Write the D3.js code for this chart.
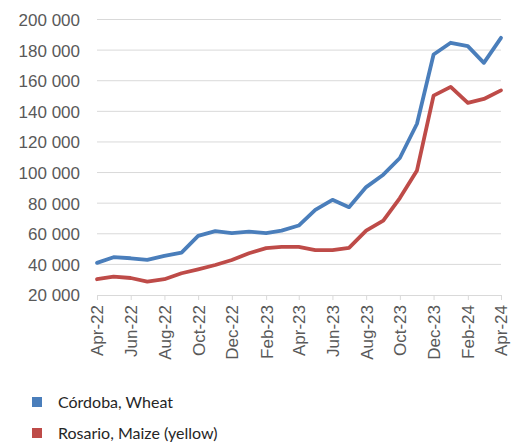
<!DOCTYPE html>
<html>
<head>
<meta charset="utf-8">
<script src="https://cdn.jsdelivr.net/npm/d3@7"></script>
<style>
  html, body { margin: 0; padding: 0; background: #fff; }
  svg { display: block; font-family: Lato, "Open Sans", sans-serif; }
</style>
</head>
<body>
<div id="chart"></div>
<script>
// months, Apr-22 .. Apr-24
const months = [
  "2022-04", "2022-05", "2022-06", "2022-07", "2022-08", "2022-09", "2022-10",
  "2022-11", "2022-12", "2023-01", "2023-02", "2023-03", "2023-04", "2023-05",
  "2023-06", "2023-07", "2023-08", "2023-09", "2023-10", "2023-11", "2023-12",
  "2024-01", "2024-02", "2024-03", "2024-04"
];

const cordobaWheat = [
  41000, 44700, 44000, 42900, 45500, 47700, 58600, 61700, 60400, 61400,
  60400, 62100, 65400, 75600, 82200, 77400, 90500, 98600, 109500, 131900,
  177100, 184800, 182600, 171700, 188000
];

const rosarioMaize = [
  30300, 32000, 31100, 28700, 30300, 34200, 36800, 39600, 42900, 47300,
  50600, 51400, 51400, 49300, 49300, 50800, 62100, 68600, 83300, 101400,
  150300, 156000, 145500, 148100, 153700
];

const seriesNames = ["Córdoba, Wheat", "Rosario, Maize (yellow)"];
const seriesColors = ["#4a7ebb", "#be4b48"];
const yTicks = [20000, 40000, 60000, 80000, 100000, 120000, 140000, 160000, 180000, 200000];

const width = 511, height = 442;
const parseMonth = d3.timeParse("%Y-%m");
const dates = months.map(parseMonth);

const svg = d3.select("#chart").append("svg")
  .attr("width", width)
  .attr("height", height);

const x = d3.scaleTime()
  .domain([dates[0], dates[dates.length - 1]])
  .range([97, 501]);

const y = d3.scaleLinear()
  .domain([20000, 200000])
  .range([295, 19.5]);

const fmt = d3.formatLocale({ decimal: ",", thousands: " ", grouping: [3], currency: ["", ""] }).format(",d");

// Сетка
svg.append("g")
  .selectAll("line")
  .data(yTicks.slice(1))
  .enter()
  .append("line")
  .attr("x1", x.range()[0])
  .attr("x2", x.range()[1])
  .attr("y1", d => y(d))
  .attr("y2", d => y(d))
  .attr("stroke", "#d9d9d9")
  .attr("stroke-width", 1);

// Ось Y
const yAxis = svg.append("g")
  .attr("transform", "translate(80,0)")
  .call(d3.axisLeft(y).tickValues(yTicks).tickFormat(fmt).tickSize(0).tickPadding(0));
yAxis.select(".domain").remove();
yAxis.selectAll("text")
  .attr("fill", "#595959")
  .style("font-size", "17px")
  .attr("dy", "0.35em");

// Ось X
const xTicks = dates.filter((d, i) => i % 2 === 0);
const xAxis = svg.append("g")
  .attr("transform", `translate(0,${y(20000)})`)
  .call(d3.axisBottom(x).tickValues(xTicks).tickFormat(d3.timeFormat("%b-%y")).tickSize(5).tickSizeOuter(0));
xAxis.select(".domain").attr("stroke", "#d9d9d9");
xAxis.selectAll(".tick line").attr("stroke", "#d9d9d9");
xAxis.selectAll("text")
  .attr("fill", "#595959")
  .style("font-size", "17px")
  .attr("text-anchor", "end")
  .attr("transform", "rotate(-90)")
  .attr("x", -10)
  .attr("y", 0)
  .attr("dy", "0.35em");

// Линии
const line = d3.line()
  .x((d, i) => x(dates[i]))
  .y(d => y(d));

[cordobaWheat, rosarioMaize].forEach((vals, k) => {
  svg.append("path")
    .datum(vals)
    .attr("fill", "none")
    .attr("stroke", seriesColors[k])
    .attr("stroke-width", 3.8)
    .attr("stroke-linejoin", "round")
    .attr("stroke-linecap", "round")
    .attr("d", line);
});

// Легенда
const legend = svg.append("g")
  .selectAll("g")
  .data(seriesNames)
  .enter()
  .append("g")
  .attr("transform", (d, i) => `translate(32,${397 + i * 31})`);

legend.append("rect")
  .attr("width", 10)
  .attr("height", 10)
  .attr("fill", (d, i) => seriesColors[i]);

legend.append("text")
  .attr("x", 26)
  .attr("y", 5)
  .attr("dy", "0.35em")
  .attr("fill", "#262626")
  .style("font-size", "16px")
  .text(d => d);
</script>
</body>
</html>
